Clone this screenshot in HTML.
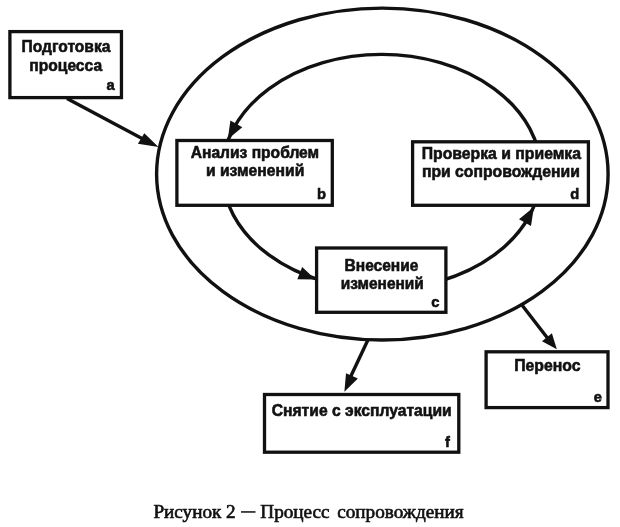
<!DOCTYPE html>
<html><head><meta charset="utf-8">
<style>
html,body{margin:0;padding:0;background:#fff;width:620px;height:527px;overflow:hidden}
svg{display:block;filter:blur(0.35px)}
.t{font-family:"Liberation Sans",sans-serif;font-weight:bold;font-size:16.5px;fill:#111;stroke:#111;stroke-width:0.6px}
.cap{font-family:"Liberation Serif",serif;font-size:19.2px;fill:#111;stroke:#111;stroke-width:0.65px}
</style></head>
<body>
<svg width="620" height="527" viewBox="0 0 620 527">
<g fill="none" stroke="#111" stroke-width="3.4">
  <ellipse cx="382.35" cy="174.05" rx="225.75" ry="165.95"/>
  <ellipse cx="381.6" cy="171.9" rx="159.4" ry="117.5"/>
  <line x1="67" y1="98.5" x2="150" y2="142.8"/>
  <line x1="367.9" y1="340" x2="350" y2="378"/>
  <line x1="522.3" y1="305.5" x2="549" y2="340"/>
</g>
<g fill="#111" stroke="none">
  <polygon points="158.5,147.1 137.9,143.8 144.3,133.2"/>
  <polygon points="227.8,139.2 230.4,120.5 242.3,127.3"/>
  <polygon points="315.5,279.6 302.2,267.1 297.3,279.2"/>
  <polygon points="533.9,207 519,219.2 531,226"/>
  <polygon points="344.4,391.8 346,373.2 357.9,378.5"/>
  <polygon points="556.8,349.3 542,341.2 551.9,333.2"/>
</g>
<g fill="#fff" stroke="#111" stroke-width="3.3">
  <rect x="9.9" y="31.6" width="111.55" height="66"/>
  <rect x="176.9" y="140.5" width="155.4" height="64.8"/>
  <rect x="412.6" y="141.8" width="175.8" height="63.5"/>
  <rect x="316.6" y="248" width="129.3" height="64.3"/>
  <rect x="486.1" y="351.8" width="121.9" height="55.8"/>
  <rect x="264.5" y="394.5" width="194.3" height="57.7"/>
</g>
<g class="t" text-anchor="middle">
  <text transform="translate(66.0,52.4) scale(0.945,1)">Подготовка</text>
  <text transform="translate(65.7,70.5) scale(0.947,1)">процесса</text>
  <text transform="translate(254.9,157.8) scale(0.947,1)">Анализ проблем</text>
  <text transform="translate(255.1,175.8) scale(0.952,1)">и изменений</text>
  <text transform="translate(501.4,158.8) scale(0.956,1)">Проверка и приемка</text>
  <text transform="translate(500.9,176.5) scale(0.955,1)">при сопровождении</text>
  <text transform="translate(381.5,271.0) scale(0.943,1)">Внесение</text>
  <text transform="translate(382.3,289.0) scale(0.938,1)">изменений</text>
  <text transform="translate(547.4,371.0) scale(0.959,1)">Перенос</text>
  <text transform="translate(361.7,415.7) scale(0.950,1)">Снятие с эксплуатации</text>
</g>
<g class="t" text-anchor="middle" style="font-size:15.5px">
  <text transform="translate(110.55,90.4) scale(0.95,1)">a</text>
  <text transform="translate(321.4,199.2) scale(0.95,1)">b</text>
  <text transform="translate(574.75,199.3) scale(0.95,1)">d</text>
  <text transform="translate(435.45,307.3) scale(0.95,1)">c</text>
  <text transform="translate(597.8,401.7) scale(0.95,1)">e</text>
  <text transform="translate(447.5,447.2) scale(0.95,1)">f</text>
</g>
<g class="cap">
  <text x="153.4" y="517.8">Рисунок</text>
  <text x="226" y="517.8">2</text>
  <text x="260.3" y="517.8">Процесс</text>
  <text x="337.2" y="517.8">сопровождения</text>
</g>
<rect x="241" y="511.2" width="14.5" height="1.5" fill="#111"/>
</svg>
</body></html>
